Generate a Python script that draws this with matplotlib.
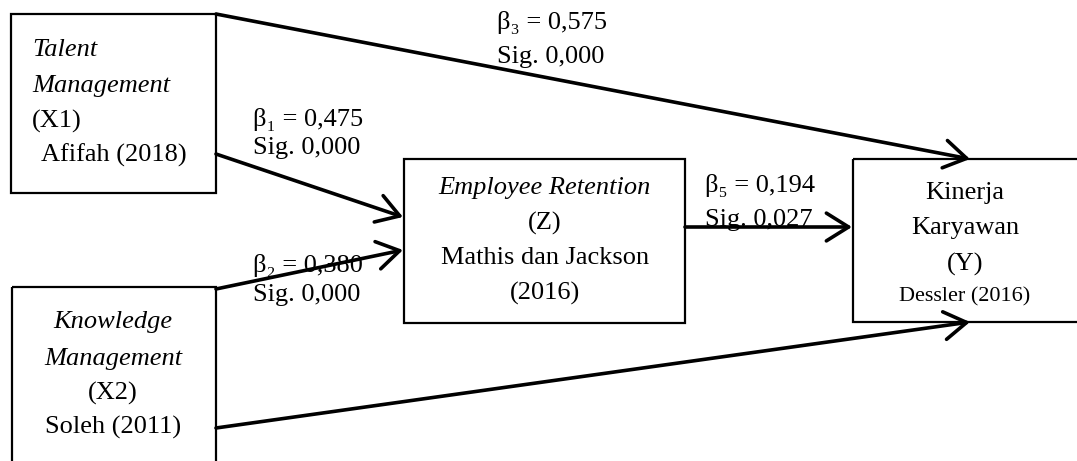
import matplotlib.pyplot as plt
from matplotlib.patches import Rectangle, FancyArrowPatch

plt.rcParams['font.family'] = ['Liberation Serif', 'DejaVu Serif']

# boxes: name -> (left, top, right, bottom) in pixel space
boxes = {
    'X1': (11, 14, 216, 193),
    'X2': (12, 287, 216, 470),
    'Z': (404, 159, 685, 323),
    'Y': (853, 159, 1085, 322),
}

# box texts: (x, y, text, italic, align, size)
box_texts = [
    (32, 50, 'Talent', True, 'left', 19),
    (32, 86, 'Management', True, 'left', 19),
    (32, 121, '(X1)', False, 'left', 19),
    (41, 155, 'Afifah (2018)', False, 'left', 19),
    (113, 322, 'Knowledge', True, 'center', 19),
    (113, 359, 'Management', True, 'center', 19),
    (113, 393, '(X2)', False, 'center', 19),
    (113, 427, 'Soleh (2011)', False, 'center', 19),
    (545, 188, 'Employee Retention', True, 'center', 19),
    (545, 223, '(Z)', False, 'center', 19),
    (545, 258, 'Mathis dan Jackson', False, 'center', 19),
    (545, 293, '(2016)', False, 'center', 19),
    (965, 193, 'Kinerja', False, 'center', 19),
    (965, 228, 'Karyawan', False, 'center', 19),
    (965, 264, '(Y)', False, 'center', 19),
    (965, 297, 'Dessler (2016)', False, 'center', 16),
]

# paths: start, end
paths = [
    ((216, 14), (970, 159)),
    ((216, 154), (403, 217)),
    ((216, 289), (403, 250)),
    ((685, 227), (852, 227)),
    ((216, 428), (970, 322)),
]

# path coefficients: beta, sig
betas = ['β₃ = 0,575', 'β₁ = 0,475', 'β₂ = 0,380', 'β₅ = 0,194']
sigs = ['Sig. 0,000', 'Sig. 0,000', 'Sig. 0,000', 'Sig. 0,027']
# label positions: x, y of beta line, y of sig line
label_pos = [(497, 22, 57), (253, 119, 148), (253, 265, 295), (705, 185, 220)]

fig = plt.figure(figsize=(10.77, 4.61), dpi=100)
ax = fig.add_axes([0, 0, 1, 1])
ax.set_xlim(0, 1077)
ax.set_ylim(461, 0)
ax.axis('off')

for name, (l, t, r, b) in boxes.items():
    ax.add_patch(Rectangle((l, t), r - l, b - t, fill=False, lw=1.6, ec='black'))

for x, y, s, it, ha, sz in box_texts:
    ax.text(x, y, s, ha=ha, va='center', fontsize=sz,
            style='italic' if it else 'normal')

for (a, b) in paths:
    ax.add_patch(FancyArrowPatch(a, b, arrowstyle='->,head_length=0.8,head_width=0.5',
                                 mutation_scale=20, lw=2.6, color='black',
                                 shrinkA=0, shrinkB=0))

for beta, sig, (x, yb, ys) in zip(betas, sigs, label_pos):
    ax.text(x, yb, beta, ha='left', va='center', fontsize=19)
    ax.text(x, ys, sig, ha='left', va='center', fontsize=19)

fig.savefig('out.png', dpi=100)
